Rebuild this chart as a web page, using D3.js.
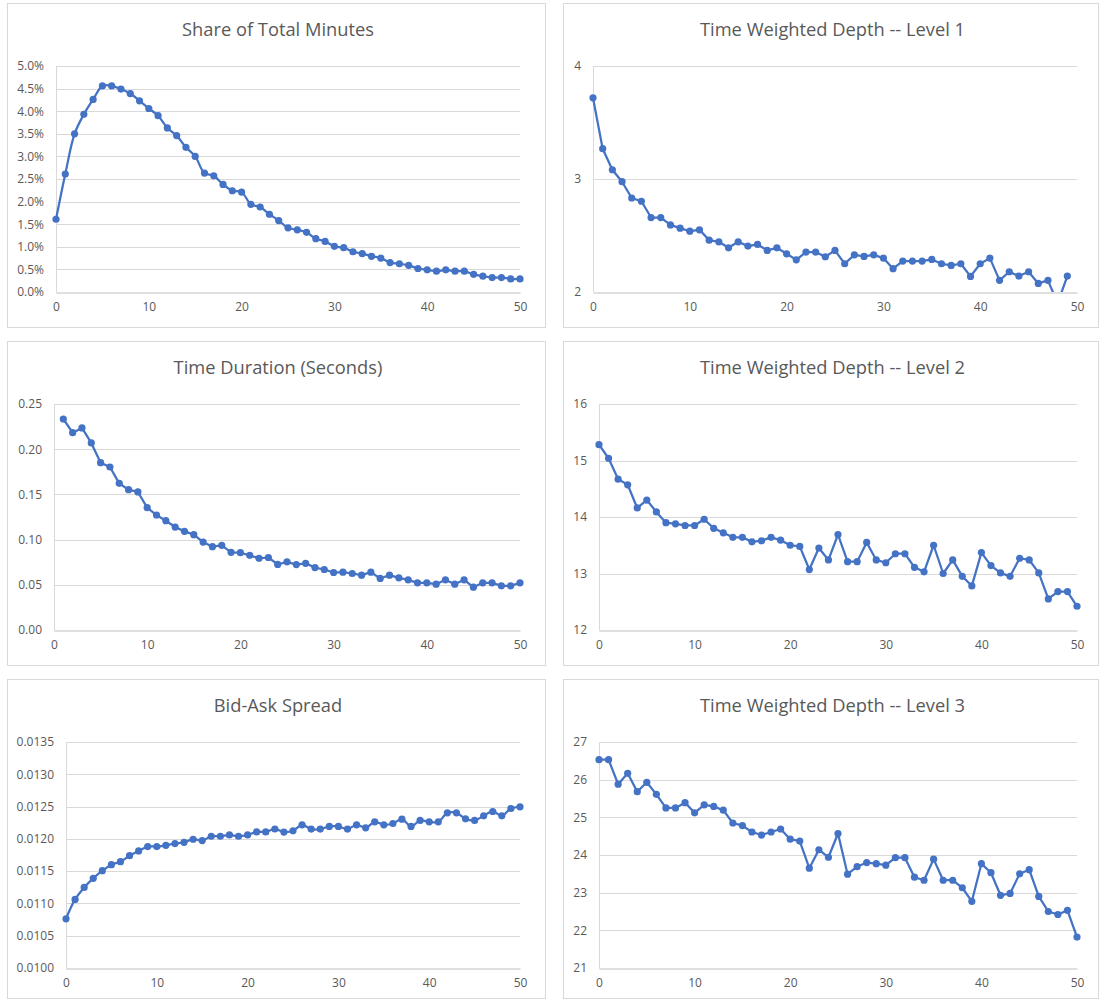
<!DOCTYPE html>
<html><head><meta charset="utf-8">
<script src="https://cdn.jsdelivr.net/npm/d3@7"></script>
<style>
html,body{margin:0;padding:0;background:#fff;}
svg{display:block;font-family:"Open Sans",sans-serif;}
</style></head>
<body><svg id="c" width="1105" height="1000"></svg>
<script>
// ---------- DATA ----------
const xValues = [0,1,2,3,4,5,6,7,8,9,10,11,12,13,14,15,16,17,18,19,20,21,22,23,24,25,26,27,28,29,30,31,32,33,34,35,36,37,38,39,40,41,42,43,44,45,46,47,48,49,50];
const xTicks = [0,10,20,30,40,50];

const shareTitle = "Share of Total Minutes";
const shareValues = [0.0161,0.0261,0.0350,0.0393,0.0426,0.0456,0.0456,0.0449,0.0439,0.0423,0.0406,0.0390,0.0363,0.0346,0.0320,0.0300,0.0263,0.0257,0.0238,0.0224,0.0221,0.0194,0.0188,0.0172,0.0158,0.0142,0.01375,0.0132,0.0118,0.0112,0.0101,0.0098,0.0089,0.0085,0.0079,0.0075,0.0065,0.00625,0.0059,0.0052,0.0049,0.0046,0.0049,0.0046,0.0046,0.0039,0.0035,0.0032,0.0032,0.0029,0.0029];
const shareTicks = [0,0.005,0.01,0.015,0.02,0.025,0.03,0.035,0.04,0.045,0.05];

const depth1Title = "Time Weighted Depth -- Level 1";
const depth1Values = [3.718,3.268,3.082,2.976,2.832,2.803,2.659,2.659,2.594,2.565,2.538,2.550,2.459,2.444,2.391,2.444,2.406,2.421,2.368,2.391,2.338,2.285,2.353,2.353,2.312,2.368,2.250,2.329,2.315,2.329,2.300,2.206,2.274,2.274,2.274,2.288,2.250,2.235,2.250,2.138,2.250,2.300,2.103,2.179,2.141,2.179,2.076,2.103,1.900,2.141,null];
const depth1Ticks = [2,3,4];

const durationTitle = "Time Duration (Seconds)";
const durationValues = [null,0.2334,0.2183,0.2235,0.2069,0.1851,0.1803,0.1622,0.1552,0.1527,0.1353,0.1272,0.1209,0.1139,0.1091,0.1055,0.0973,0.0922,0.0937,0.0859,0.0855,0.0826,0.0793,0.0802,0.0725,0.0754,0.0724,0.0738,0.0690,0.0669,0.0636,0.0640,0.0625,0.0607,0.0640,0.0570,0.0607,0.0577,0.0555,0.0522,0.0522,0.0507,0.0555,0.0507,0.0555,0.0474,0.0522,0.0522,0.0489,0.0489,0.0522];
const durationTicks = [0,0.05,0.10,0.15,0.20,0.25];

const depth2Title = "Time Weighted Depth -- Level 2";
const depth2Values = [15.28,15.04,14.67,14.57,14.16,14.30,14.09,13.90,13.88,13.85,13.85,13.96,13.80,13.72,13.64,13.64,13.56,13.58,13.64,13.59,13.50,13.48,13.07,13.45,13.24,13.69,13.21,13.21,13.55,13.24,13.19,13.35,13.35,13.11,13.03,13.50,13.00,13.24,12.95,12.78,13.37,13.14,13.01,12.95,13.27,13.24,13.01,12.55,12.68,12.68,12.42];
const depth2Ticks = [12,13,14,15,16];

const spreadTitle = "Bid-Ask Spread";
const spreadValues = [0.010762,0.011062,0.011248,0.011388,0.011507,0.011600,0.011647,0.011740,0.011813,0.011880,0.011880,0.011900,0.011927,0.011947,0.011994,0.011973,0.012040,0.012040,0.012061,0.012040,0.012061,0.012108,0.012108,0.012153,0.012105,0.012125,0.012218,0.012151,0.012151,0.012192,0.012192,0.012151,0.012218,0.012171,0.012264,0.012218,0.012238,0.012305,0.012192,0.012285,0.012264,0.012264,0.012403,0.012403,0.012310,0.012285,0.012357,0.012424,0.012357,0.012470,0.012496];
const spreadTicks = [0.0100,0.0105,0.0110,0.0115,0.0120,0.0125,0.0130,0.0135];

const depth3Title = "Time Weighted Depth -- Level 3";
const depth3Values = [26.53,26.53,25.88,26.17,25.68,25.93,25.61,25.25,25.25,25.39,25.12,25.33,25.29,25.19,24.85,24.78,24.61,24.53,24.61,24.69,24.42,24.37,23.65,24.14,23.94,24.57,23.49,23.69,23.80,23.77,23.73,23.93,23.93,23.41,23.33,23.89,23.33,23.33,23.13,22.77,23.77,23.53,22.93,22.98,23.50,23.61,22.90,22.50,22.42,22.53,21.82];
const depth3Ticks = [21,22,23,24,25,26,27];

// ---------- LAYOUT ----------
const COLOR = "#4472C4";
const panels = [
  {title: shareTitle, values: shareValues, ticks: shareTicks, fmt: d3.format(".1%"), smooth: true,
   box: [7,3,538,324], plot: {l:56, r:520, t:66, b:292}},
  {title: depth1Title, values: depth1Values, ticks: depth1Ticks, fmt: d3.format("d"), smooth: false,
   box: [563,3,535,324], plot: {l:593, r:1077, t:66, b:292}},
  {title: durationTitle, values: durationValues, ticks: durationTicks, fmt: d3.format(".2f"), smooth: false,
   box: [7,341,538,324], plot: {l:54, r:520, t:404, b:630}},
  {title: depth2Title, values: depth2Values, ticks: depth2Ticks, fmt: d3.format("d"), smooth: false,
   box: [563,341,535,324], plot: {l:599, r:1077, t:404, b:630}},
  {title: spreadTitle, values: spreadValues, ticks: spreadTicks, fmt: d3.format(".4f"), smooth: true,
   box: [7,679,538,319], plot: {l:66, r:520, t:742, b:968}},
  {title: depth3Title, values: depth3Values, ticks: depth3Ticks, fmt: d3.format("d"), smooth: false,
   box: [563,679,535,319], plot: {l:599, r:1077, t:742, b:968}}
];

const svg = d3.select("#c");
svg.append("rect").attr("width",1105).attr("height",1000).attr("fill","#fff");

panels.forEach((p, i) => {
  const g = svg.append("g");
  const [bx,by,bw,bh] = p.box;
  g.append("rect").attr("x",bx+0.5).attr("y",by+0.5).attr("width",bw).attr("height",bh)
    .attr("fill","#fff").attr("stroke","#d9d9d9").attr("stroke-width",1);

  g.append("text").attr("x", bx + bw/2 + 2).attr("y", by + 33)
    .attr("text-anchor","middle").attr("font-size",18.3).attr("fill","#595959").text(p.title);

  const x = d3.scaleLinear().domain([0,50]).range([p.plot.l, p.plot.r]);
  const y = d3.scaleLinear().domain(d3.extent(p.ticks)).range([p.plot.b, p.plot.t]);

  // gridlines
  g.append("g").selectAll("line").data(p.ticks.slice(1)).join("line")
    .attr("x1", p.plot.l).attr("x2", p.plot.r)
    .attr("y1", d => Math.round(y(d))+0.5).attr("y2", d => Math.round(y(d))+0.5)
    .attr("stroke","#d9d9d9").attr("stroke-width",1);

  // y axis
  const ya = g.append("g").attr("transform", `translate(${p.plot.l},0)`)
    .call(d3.axisLeft(y).tickValues(p.ticks).tickFormat(p.fmt).tickSize(0).tickPadding(12));
  ya.select(".domain").attr("stroke","#d9d9d9");
  ya.selectAll("text").attr("font-size",12).attr("fill","#595959").attr("font-family","Open Sans");

  // x axis
  const xa = g.append("g").attr("transform", `translate(0,${Math.round(p.plot.b)+0.5})`)
    .call(d3.axisBottom(x).tickValues(xTicks).tickFormat(d3.format("d")).tickSize(0).tickPadding(10));
  xa.select(".domain").attr("stroke","#bfbfbf").attr("stroke-width",1);
  xa.selectAll("text").attr("font-size",12).attr("fill","#595959").attr("font-family","Open Sans");

  // clip
  const cid = "clip" + i;
  svg.append("clipPath").attr("id", cid).append("rect")
    .attr("x", p.plot.l - 6).attr("y", p.plot.t - 6)
    .attr("width", p.plot.r - p.plot.l + 12).attr("height", p.plot.b - p.plot.t + 6);

  const pts = xValues.map((xv, k) => ({x: xv, v: p.values[k]})).filter(d => d.v !== null && d.v !== undefined);
  const line = d3.line().x(d => x(d.x)).y(d => y(d.v))
    .curve(p.smooth ? d3.curveCatmullRom.alpha(0.5) : d3.curveLinear);
  const cg = g.append("g").attr("clip-path", `url(#${cid})`);
  cg.append("path").datum(pts).attr("d", line).attr("fill","none")
    .attr("stroke", COLOR).attr("stroke-width",2.25).attr("stroke-linejoin","round");
  cg.selectAll("circle").data(pts).join("circle")
    .attr("cx", d => x(d.x)).attr("cy", d => y(d.v)).attr("r", 3.6).attr("fill", COLOR);
});
</script>
</body></html>
